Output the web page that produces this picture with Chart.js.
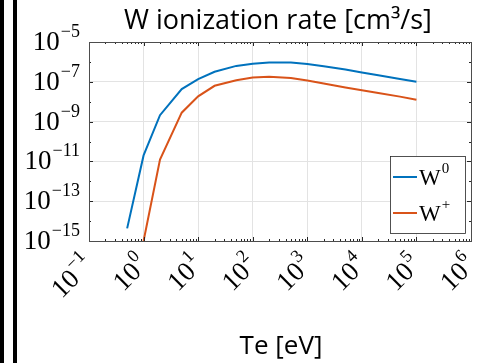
<!DOCTYPE html>
<html>
<head>
<meta charset="utf-8">
<script src="https://cdn.jsdelivr.net/npm/chart.js@4.4.1/dist/chart.umd.min.js"></script>
<style>
    html, body { margin: 0; padding: 0; background: #fff; }
    #wrap { width: 487px; height: 363px; }
</style>
</head>
<body>
<div id="wrap"><canvas id="rateChart"></canvas></div>
<script>
// Electron temperature [eV]
const te = [0.5, 1, 2, 5, 10, 20, 50, 100, 200, 500, 1000, 2000, 5000, 1e4, 2e4, 5e4, 1e5];
// ionization rate coefficients [cm^3/s]
const rateW0 = [4.3e-15, 2.0e-11, 2.1e-9, 4.3e-8, 1.35e-7, 3.2e-7, 6.3e-7, 8.1e-7, 9.3e-7, 9.3e-7, 7.9e-7, 6.0e-7, 4.2e-7, 2.95e-7, 2.15e-7, 1.4e-7, 1.0e-7];
const rateW1 = [null, 1.0e-15, 1.25e-11, 2.8e-9, 1.85e-8, 6.3e-8, 1.2e-7, 1.65e-7, 1.8e-7, 1.55e-7, 1.15e-7, 8.2e-8, 5.2e-8, 3.8e-8, 2.75e-8, 1.8e-8, 1.25e-8];

const seriesNames = ['W', 'W'];
const seriesSup = ['0', '+'];
const seriesColors = ['#0072BD', '#D95319'];

const xTickExp = [-1, 0, 1, 2, 3, 4, 5, 6];
const yTickExp = [-15, -13, -11, -9, -7, -5];

const titleText = 'W ionization rate [cm³/s]';
const xTitleText = 'Te [eV]';

const SERIF = '"Liberation Serif", "DejaVu Serif", serif';
const SANS = '"Open Sans", "Noto Sans", sans-serif';

function toPoints(ys) {
    return te.map((x, i) => ({ x: x, y: ys[i] })).filter(p => p.y !== null);
}

// draws base + superscript exponent, right end at (0,0) of current transform
function drawPower(ctx, base, exp, baseSize, expSize, align) {
    ctx.font = baseSize + 'px ' + SERIF;
    const bw = ctx.measureText(base).width;
    ctx.font = expSize + 'px ' + SERIF;
    const ew = ctx.measureText(exp).width;
    const x0 = align === 'right' ? -(bw + ew + 1) : 0;
    ctx.textAlign = 'left';
    ctx.textBaseline = 'alphabetic';
    ctx.font = baseSize + 'px ' + SERIF;
    ctx.fillText(base, x0, 0);
    ctx.font = expSize + 'px ' + SERIF;
    ctx.fillText(exp, x0 + bw + 1, -baseSize * 0.48);
}

const matlabAxes = {
    id: 'matlabAxes',
    beforeDraw(chart) {
        const ctx = chart.ctx;
        ctx.save();
        ctx.fillStyle = '#fff';
        ctx.fillRect(0, 0, chart.width, chart.height);
        ctx.fillStyle = '#000';
        ctx.fillRect(0, 0, 4, chart.height);
        ctx.fillRect(13, 0, 4, chart.height);
        ctx.restore();
    },
    afterDraw(chart) {
        const ctx = chart.ctx;
        const a = chart.chartArea;
        const xs = chart.scales.x;
        const ys = chart.scales.y;
        ctx.save();

        // ticks inside the box
        ctx.strokeStyle = '#262626';
        ctx.lineWidth = 1;
        ctx.beginPath();
        for (let e = -1; e < 6; e++) {
            for (let k = 1; k <= 9; k++) {
                const px = Math.round(xs.getPixelForValue(k * Math.pow(10, e))) + 0.5;
                const len = k === 1 ? 4 : 2;
                ctx.moveTo(px, a.bottom); ctx.lineTo(px, a.bottom - len);
                ctx.moveTo(px, a.top); ctx.lineTo(px, a.top + len);
            }
        }
        for (let e = -15; e <= -5; e++) {
            const py = Math.round(ys.getPixelForValue(Math.pow(10, e))) + 0.5;
            const len = (e % 2 !== 0) ? 4 : 2;
            ctx.moveTo(a.left, py); ctx.lineTo(a.left + len, py);
            ctx.moveTo(a.right, py); ctx.lineTo(a.right - len, py);
        }
        ctx.stroke();

        // box
        ctx.strokeStyle = '#4d4d4d';
        ctx.strokeRect(Math.round(a.left) + 0.5, Math.round(a.top) + 0.5,
            Math.round(a.right - a.left), Math.round(a.bottom - a.top));

        // y tick labels
        ctx.fillStyle = '#000';
        yTickExp.forEach(e => {
            const py = ys.getPixelForValue(Math.pow(10, e));
            ctx.save();
            ctx.translate(a.left - 9, py + 8);
            drawPower(ctx, '10', '\u2212' + Math.abs(e), 27, 18, 'right');
            ctx.restore();
        });

        // x tick labels, rotated 45 deg
        xTickExp.forEach(e => {
            const px = xs.getPixelForValue(Math.pow(10, e));
            ctx.save();
            ctx.translate(px + 6, a.bottom + 25);
            ctx.rotate(-Math.PI / 4);
            drawPower(ctx, '10', e < 0 ? '\u2212' + Math.abs(e) : String(e), 27, 18, 'right');
            ctx.restore();
        });

        // titles
        const cx = (a.left + a.right) / 2;
        ctx.textAlign = 'center';
        ctx.textBaseline = 'alphabetic';
        ctx.font = '27px ' + SANS;
        ctx.fillText(titleText, cx - 2, 29);
        ctx.font = '26px ' + SANS;
        ctx.fillText(xTitleText, cx + 1, 354);

        // legend
        const lx = a.right - 81, ly = a.bottom - 85, lw = 75, lh = 77;
        ctx.fillStyle = '#fff';
        ctx.fillRect(lx, ly, lw, lh);
        ctx.strokeStyle = '#262626';
        ctx.lineWidth = 0.8;
        ctx.strokeRect(lx + 0.5, ly + 0.5, lw, lh);
        chart.data.datasets.forEach((ds, i) => {
            const ry = ly + 21 + i * 36;
            ctx.strokeStyle = ds.borderColor;
            ctx.lineWidth = 2;
            ctx.beginPath();
            ctx.moveTo(lx + 3, ry);
            ctx.lineTo(lx + 27, ry);
            ctx.stroke();
            ctx.fillStyle = '#000';
            ctx.save();
            ctx.translate(lx + 29, ry + 7.5);
            drawPower(ctx, seriesNames[i], seriesSup[i], 23, 15, 'left');
            ctx.restore();
        });

        ctx.restore();
    }
};

new Chart(document.getElementById('rateChart'), {
    type: 'line',
    data: {
        datasets: [
            { label: 'W0', data: toPoints(rateW0), borderColor: seriesColors[0], borderWidth: 2, pointRadius: 0, fill: false, tension: 0 },
            { label: 'W+', data: toPoints(rateW1), borderColor: seriesColors[1], borderWidth: 2, pointRadius: 0, fill: false, tension: 0 }
        ]
    },
    options: {
        responsive: true,
        maintainAspectRatio: false,
        animation: false,
        devicePixelRatio: 1,
        layout: { padding: { left: 89, right: 16, top: 42, bottom: 122 } },
        plugins: { legend: { display: false }, title: { display: false }, tooltip: { enabled: false } },
        scales: {
            x: {
                type: 'logarithmic',
                min: 0.1,
                max: 1e6,
                afterBuildTicks: s => { s.ticks = xTickExp.map(e => ({ value: Math.pow(10, e), major: true })); },
                afterFit: s => { s.height = 0; },
                ticks: { display: false },
                border: { display: false },
                grid: { color: '#e3e3e3', drawTicks: false, lineWidth: 1 }
            },
            y: {
                type: 'logarithmic',
                min: 1e-15,
                max: 1e-5,
                afterBuildTicks: s => { s.ticks = yTickExp.map(e => ({ value: Math.pow(10, e), major: true })); },
                afterFit: s => { s.width = 0; },
                ticks: { display: false },
                border: { display: false },
                grid: { color: '#e3e3e3', drawTicks: false, lineWidth: 1 }
            }
        }
    },
    plugins: [matlabAxes]
});
</script>
</body>
</html>
